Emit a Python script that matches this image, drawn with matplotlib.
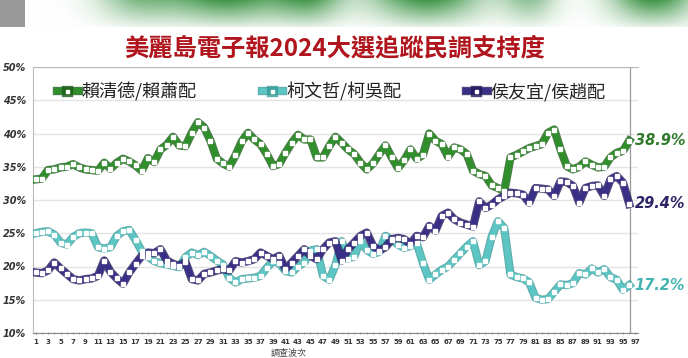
import numpy as np
import matplotlib
matplotlib.use("Agg")
import matplotlib.pyplot as plt
from matplotlib.lines import Line2D
import matplotlib.patheffects as pe

plt.rcParams['font.family'] = ['Noto Sans CJK TC', 'DejaVu Sans']

# survey waves 1..96
waves = np.arange(1, 97)

lai = [33.1, 33.2, 34.5, 34.6, 34.9, 35.0, 35.4, 34.9, 34.6, 34.5,
       34.4, 35.6, 34.7, 35.6, 36.2, 35.8, 35.2, 34.4, 36.3, 35.7,
       37.6, 38.3, 39.5, 38.2, 38.1, 40.1, 41.7, 40.9, 38.9, 36.2,
       35.5, 35.0, 36.7, 38.8, 40.1, 39.1, 38.4, 36.9, 35.1, 35.4,
       37.1, 38.6, 39.8, 39.1, 39.1, 36.4, 36.4, 38.1, 39.5, 38.6,
       37.6, 36.9, 35.6, 34.6, 35.5, 36.9, 38.2, 36.4, 34.8, 36.0,
       37.6, 36.2, 36.8, 40.0, 38.9, 38.4, 36.5, 37.9, 37.6, 36.9,
       34.4, 33.9, 33.6, 32.2, 31.8, 31.3, 36.4, 36.8, 37.3, 37.8,
       38.1, 38.4, 40.1, 40.6, 37.6, 35.1, 34.6, 35.0, 35.8, 35.3,
       34.9, 35.0, 36.4, 37.1, 37.4, 38.9]

ko = [25.0, 25.2, 25.3, 24.8, 23.6, 23.3, 24.4, 25.0, 25.1, 25.0,
      22.9, 22.7, 22.9, 24.6, 25.3, 25.5, 24.0, 22.3, 21.5, 20.8,
      20.5, 20.3, 20.1, 19.9, 21.4, 22.1, 21.7, 22.2, 21.6, 20.9,
      20.3, 18.3, 17.6, 18.1, 18.2, 18.3, 18.6, 19.8, 20.8, 20.5,
      19.3, 19.1, 20.0, 20.6, 22.4, 22.6, 18.6, 18.0, 20.2, 23.8,
      21.2, 21.5, 23.9, 22.5, 21.9, 22.2, 24.6, 24.0, 23.3, 22.8,
      23.1, 23.5, 20.5, 18.0, 18.8, 19.5, 20.0, 21.0, 22.0, 23.0,
      23.8, 20.2, 20.8, 24.5, 26.8, 25.8, 18.8, 18.4, 18.2, 17.6,
      15.3, 15.0, 15.1, 16.2, 17.3, 17.2, 17.5, 19.0, 18.8, 19.7,
      19.1, 19.6, 18.4, 18.0, 16.5, 17.2]

hou = [19.1, 19.0, 19.4, 20.6, 19.7, 18.9, 18.1, 17.9, 18.1, 18.2,
       18.6, 20.9, 19.2, 18.2, 17.4, 19.1, 20.4, 21.6, 22.1, 22.0,
       22.6, 20.9, 20.4, 20.1, 20.7, 18.1, 17.9, 18.9, 19.1, 19.4,
       19.6, 19.4, 20.8, 20.6, 20.8, 21.1, 22.1, 21.6, 21.1, 21.6,
       19.6, 20.6, 21.6, 22.6, 21.6, 21.1, 22.6, 23.6, 23.8, 20.9,
       22.6, 23.6, 24.6, 25.1, 23.1, 22.4, 22.9, 24.1, 24.3, 24.1,
       23.4, 24.6, 24.4, 26.1, 25.4, 27.6, 28.1, 27.1, 26.6, 26.3,
       26.0, 29.8, 28.8, 29.3, 30.1, 30.6, 31.1, 31.0, 30.8, 29.6,
       31.8, 31.7, 31.6, 30.6, 32.8, 32.7, 32.1, 29.6, 31.8, 32.1,
       32.2, 30.6, 33.1, 33.6, 32.6, 29.4]

names = ['賴清德/賴蕭配', '柯文哲/柯吳配', '侯友宜/侯趙配']
colors = ['#2f8f2a', '#5cc6c4', '#3a2f86']
edges = ['#1d5e1a', '#3a9c9a', '#221a5a']
label_colors = ['#2e7a2a', '#46b4b2', '#2b2466']
last_labels = ['38.9%', '17.2%', '29.4%']

fig = plt.figure(figsize=(6.88, 3.58), dpi=100)
fig.patch.set_facecolor('white')

# blurred screenshot strip at the very top
band = fig.add_axes([0, 1 - 27 / 358, 1, 27 / 358])
xs = np.linspace(0, 1, 688)
g = np.zeros_like(xs)
for c, w, a in [(0.2, 0.06, 0.5), (0.33, 0.09, 0.9), (0.45, 0.05, 0.7),
                (0.62, 0.08, 0.9), (0.77, 0.04, 0.5), (0.95, 0.06, 0.9)]:
    g += a * np.exp(-((xs - c) / w) ** 2)
g = np.clip(g, 0, 1)
fade = np.linspace(1, 0.15, 27)[:, None]
amt = g[None, :] * fade
img = np.ones((27, 688, 3))
green = np.array([0.18, 0.55, 0.22])
img = img * (1 - amt[..., None]) + green * amt[..., None]
img[:, :25, :] = img[:, :25, :] * 0.6
band.imshow(img, aspect='auto')
band.axis('off')

ax = fig.add_axes([33 / 688, 1 - 333 / 358, (638 - 33) / 688, (333 - 67) / 358])

for vals, col, ed in zip([lai, ko, hou], colors, edges):
    ax.plot(waves, vals, color=col, lw=4.2, solid_joinstyle='round', zorder=3,
            path_effects=[pe.Stroke(linewidth=6, foreground=ed, alpha=0.8), pe.Normal()])
    ax.plot(waves, vals, ls='none', marker='s', ms=2.2, mfc='white', mec='white', zorder=4)

ax.set_xlim(0.6, 97.4)
ax.set_ylim(10, 50)
ax.set_yticks(np.arange(10, 51, 5))
ax.set_yticklabels([f'{v}%' for v in range(10, 51, 5)], fontsize=7,
                   fontstyle='italic', fontweight='bold', color='#333333',
                   family=['DejaVu Sans'])
ax.set_xticks(np.arange(1, 98, 2))
ax.set_xticklabels([str(v) for v in range(1, 98, 2)], fontsize=5,
                   fontweight='bold', color='#333333', family=['Liberation Sans Narrow', 'DejaVu Sans'])
ax.set_xticks(np.arange(1, 98), minor=True)
ax.tick_params(axis='y', length=0, pad=5)
ax.tick_params(axis='x', which='both', length=2, color='#888888', pad=3, direction='inout')
ax.grid(axis='y', color='#e4e4e4', lw=1)
ax.set_axisbelow(True)
for s in ['top', 'left', 'bottom']:
    ax.spines[s].set_color('#bbbbbb')
ax.spines['bottom'].set_linestyle((0, (1, 1)))
ax.spines['bottom'].set_color('#888888')
ax.spines['right'].set_visible(False)
ax.axvline(96.1, color='#999999', lw=0.9, zorder=2)

handles = [Line2D([0], [0], color=c, lw=4.2, marker='s', ms=2.2, mfc='white', mec='white',
                  markevery=[1], path_effects=[pe.Stroke(linewidth=6, foreground=e, alpha=0.8), pe.Normal()])
           for c, e in zip(colors, edges)]
leg = ax.legend(handles, names, ncol=3, loc='center', bbox_to_anchor=(0.493, 0.905),
                frameon=False, fontsize=13, handlelength=1.2, handletextpad=0.15,
                columnspacing=3.6)
for t in leg.get_texts():
    t.set_color('#222222')

for vals, txt, col in zip([lai, ko, hou], last_labels, label_colors):
    ax.annotate(txt, (waves[-1], vals[-1]), xytext=(4, 0), textcoords='offset points',
                va='center', ha='left', fontsize=10.5, fontweight='bold', fontstyle='italic',
                color=col, family=['DejaVu Sans'], annotation_clip=False)

fig.text(0.486, 1 - 48 / 358, '美麗島電子報2024大選追蹤民調支持度', ha='center', va='center',
         fontsize=17.5, fontweight='bold', color='#b0141c')
fig.text(0.42, 0.001, '調查波次', ha='center', va='bottom', fontsize=6.5, color='#444444')

fig.savefig('out.png', dpi=100)
